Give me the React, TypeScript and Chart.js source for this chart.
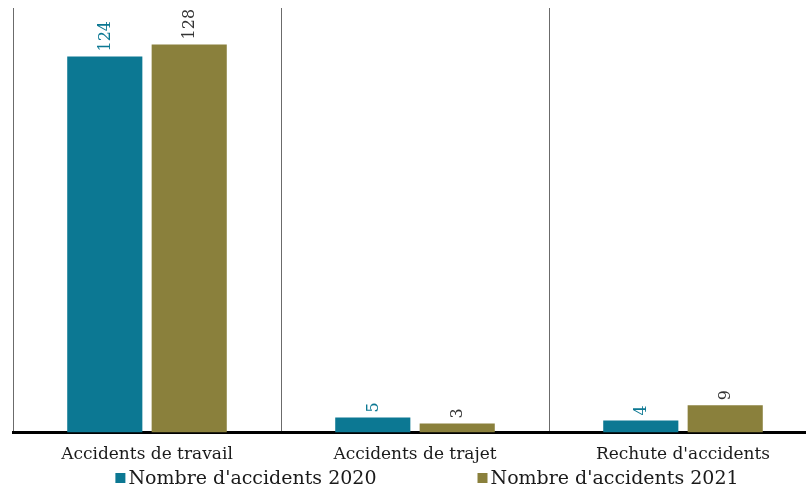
import { useEffect, useRef } from 'react';
import { Chart, registerables } from 'chart.js';
Chart.register(...registerables);

const categories = ['Accidents de travail', 'Accidents de trajet', "Rechute d'accidents"];
const series2020 = [124, 5, 4];
const series2021 = [128, 3, 9];
const seriesLabels = ["Nombre d'accidents 2020", "Nombre d'accidents 2021"];
const yMax = 140;

const TEAL = '#0c7893';
const OLIVE = '#8a803c';
const FONT = "'DejaVu Serif', serif";
const TEXT = '#1a1a1a';

const valueLabels = {
  id: 'valueLabels',
  afterDatasetsDraw(chart: any) {
    const ctx = chart.ctx;
    chart.data.datasets.forEach((ds: any, i: number) => {
      const meta = chart.getDatasetMeta(i);
      meta.data.forEach((bar: any, j: number) => {
        ctx.save();
        ctx.translate(bar.x, bar.y - 5);
        ctx.rotate(-Math.PI / 2);
        ctx.font = `16px ${FONT}`;
        ctx.fillStyle = ds.labelColor;
        ctx.textAlign = 'left';
        ctx.textBaseline = 'middle';
        ctx.fillText(String(ds.data[j]), 0, 1);
        ctx.restore();
      });
    });
  },
};

const customLegend = {
  id: 'customLegend',
  afterDraw(chart: any) {
    const ctx = chart.ctx;
    ctx.save();
    ctx.font = `19px ${FONT}`;
    const box = 10;
    const gapText = 3;
    const gapItems = 101;
    const items = chart.data.datasets.map((ds: any) => ({
      label: ds.label,
      color: ds.backgroundColor,
      w: box + gapText + ctx.measureText(ds.label).width,
    }));
    const total = items.reduce((s: number, it: any) => s + it.w, 0) + gapItems * (items.length - 1);
    let x = 427 - total / 2;
    const y = 478;
    items.forEach((it: any) => {
      ctx.fillStyle = it.color;
      ctx.fillRect(x, y - box / 2, box, box);
      ctx.fillStyle = TEXT;
      ctx.textAlign = 'left';
      ctx.textBaseline = 'middle';
      ctx.fillText(it.label, x + box + gapText, y + 1);
      x += it.w + gapItems;
    });
    ctx.restore();
  },
};

export default function App() {
  const ref = useRef<HTMLCanvasElement>(null);
  useEffect(() => {
    if (!ref.current) return;
    const chart = new Chart(ref.current, {
      type: 'bar',
      data: {
        labels: categories,
        datasets: [
          { label: seriesLabels[0], data: series2020, backgroundColor: TEAL, labelColor: TEAL } as any,
          { label: seriesLabels[1], data: series2021, backgroundColor: OLIVE, labelColor: '#333333' } as any,
        ],
      },
      options: {
        responsive: false,
        animation: false,
        devicePixelRatio: 1,
        categoryPercentage: 0.63,
        barPercentage: 0.89,
        layout: { padding: { left: 13, right: 13, top: 8, bottom: 11 } },
        plugins: { legend: { display: false }, tooltip: { enabled: false } },
        scales: {
          x: {
            grid: { display: true, offset: true, color: '#6b6b6b', lineWidth: 1, drawTicks: false },
            border: { display: true, color: '#000000', width: 3 },
            ticks: { color: TEXT, font: { family: FONT, size: 17 }, padding: 12 },
          },
          y: {
            display: false,
            min: 0,
            max: yMax,
            grid: { display: false },
          },
        },
      } as any,
      plugins: [valueLabels, customLegend],
    });
    return () => chart.destroy();
  }, []);
  return (
    <div style={{ position: 'absolute', left: 0, top: 0, width: 806, height: 488, overflow: 'hidden', background: '#fff' }}>
      <canvas ref={ref} width={830} height={488} style={{ width: 830, height: 488, display: 'block' }} />
    </div>
  );
}
